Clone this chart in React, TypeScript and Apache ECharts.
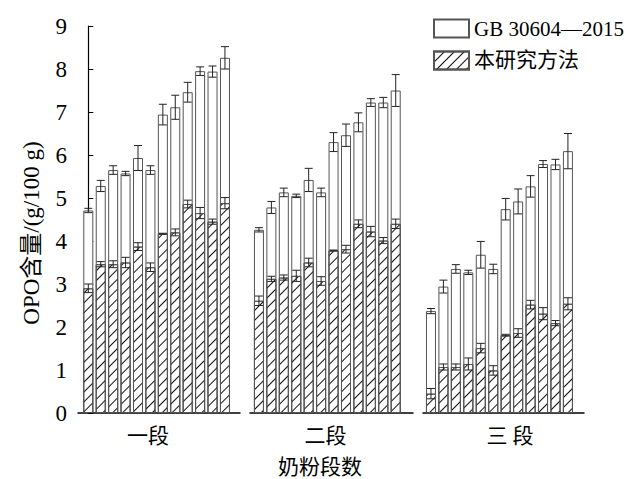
import React, { useEffect, useRef } from "react";
import * as echarts from "echarts";

const groupNames = ["一段", "二段", "三 段"];
const legendNames = ["GB 30604—2015", "本研究方法"];
const yTicks = [0, 1, 2, 3, 4, 5, 6, 7, 8, 9];

const gb1 = [4.71, 5.28, 5.65, 5.57, 5.93, 5.65, 6.94, 7.11, 7.46, 7.95, 7.94, 8.26];
const gbErr1 = [0.05, 0.13, 0.1, 0.05, 0.29, 0.1, 0.24, 0.28, 0.23, 0.1, 0.13, 0.26];
const our1 = [2.9, 3.46, 3.46, 3.5, 3.87, 3.39, 4.17, 4.2, 4.86, 4.65, 4.45, 4.88];
const ourErr1 = [0.1, 0.06, 0.08, 0.12, 0.09, 0.1, 0.01, 0.08, 0.09, 0.13, 0.06, 0.13];

const gb2 = [4.26, 4.78, 5.13, 5.05, 5.42, 5.13, 6.3, 6.46, 6.76, 7.22, 7.22, 7.5];
const gbErr2 = [0.05, 0.14, 0.1, 0.04, 0.27, 0.1, 0.22, 0.26, 0.22, 0.09, 0.12, 0.37];
const our2 = [2.61, 3.12, 3.15, 3.19, 3.5, 3.07, 3.78, 3.81, 4.4, 4.22, 4.01, 4.4];
const ourErr2 = [0.11, 0.06, 0.06, 0.13, 0.1, 0.1, 0.01, 0.09, 0.09, 0.12, 0.07, 0.11];

const gb3 = [2.37, 2.94, 3.35, 3.27, 3.68, 3.35, 4.74, 4.92, 5.27, 5.79, 5.78, 6.09];
const gbErr3 = [0.06, 0.15, 0.1, 0.05, 0.31, 0.11, 0.25, 0.29, 0.25, 0.08, 0.12, 0.41];
const our3 = [0.45, 1.07, 1.07, 1.14, 1.51, 0.99, 1.81, 1.86, 2.52, 2.31, 2.09, 2.54];
const ourErr3 = [0.12, 0.07, 0.07, 0.14, 0.11, 0.11, 0.02, 0.1, 0.1, 0.14, 0.06, 0.14];

const gbData = [gb1, gb2, gb3];
const gbErrs = [gbErr1, gbErr2, gbErr3];
const ourData = [our1, our2, our3];
const ourErrs = [ourErr1, ourErr2, ourErr3];

const FONT = "'Liberation Serif', 'Times New Roman', 'Noto Sans CJK SC', serif";
const CJK = "'Liberation Serif', 'Noto Sans CJK SC', serif";

const hatch = {
  symbol: "rect",
  symbolSize: 1,
  dashArrayX: [1, 0],
  dashArrayY: [1, 6],
  rotation: -Math.PI / 4,
  color: "#111",
  backgroundColor: "#fff",
};

function errorRender(params: any, api: any) {
  const x = api.value(0);
  const y = api.value(1);
  const e = api.value(2);
  const top = api.coord([x, y + e]);
  const bot = api.coord([x, y - e]);
  const hw = 4;
  const style = { stroke: "#222", lineWidth: 1 };
  return {
    type: "group",
    children: [
      { type: "line", shape: { x1: top[0], y1: top[1], x2: bot[0], y2: bot[1] }, style },
      { type: "line", shape: { x1: top[0] - hw, y1: top[1], x2: top[0] + hw, y2: top[1] }, style },
      { type: "line", shape: { x1: bot[0] - hw, y1: bot[1], x2: bot[0] + hw, y2: bot[1] }, style },
    ],
  };
}

export default function App() {
  const ref = useRef<HTMLDivElement>(null);
  useEffect(() => {
    document.body.style.margin = "0";
    const chart = echarts.init(ref.current!, null, { renderer: "svg" });
    const grids = [
      { left: 78, top: 26, width: 162, height: 387 },
      { left: 250, top: 26, width: 163, height: 387 },
      { left: 423, top: 26, width: 161, height: 387 },
    ];
    const xRanges = [
      [-0.83, 12.21],
      [-0.72, 12.39],
      [-0.64, 12.29],
    ];
    const namePads = [
      [0, 22, 0, 0],
      [0, 12, 0, 0],
      [0, 0, 0, 13],
    ];
    const xAxes = grids.map((_, g) => ({
      type: "value",
      gridIndex: g,
      min: xRanges[g][0],
      max: xRanges[g][1],
      name: groupNames[g],
      nameLocation: "middle",
      nameGap: 12,
      nameTextStyle: { fontFamily: CJK, fontSize: 21, color: "#000", padding: namePads[g] },
      axisLine: { show: true, onZero: false, lineStyle: { color: "#000", width: 1.5 } },
      axisTick: { show: false },
      axisLabel: { show: false },
      splitLine: { show: false },
    }));
    const yAxes = grids.map((_, g) => ({
      type: "value",
      gridIndex: g,
      min: yTicks[0],
      max: yTicks[yTicks.length - 1],
      interval: 1,
      axisLine: { show: g === 0, lineStyle: { color: "#000", width: 1.2 } },
      axisTick: { show: g === 0, inside: true, length: 5, lineStyle: { color: "#000" } },
      axisLabel: { show: g === 0, fontFamily: FONT, fontSize: 23, color: "#000", margin: 11 },
      splitLine: { show: false },
    }));
    const series: any[] = [];
    for (let g = 0; g < 3; g++) {
      series.push({
        type: "bar",
        name: legendNames[0],
        xAxisIndex: g,
        yAxisIndex: g,
        barWidth: 10,
        barGap: "-100%",
        itemStyle: { color: "#fff", borderColor: "#555", borderWidth: 1 },
        data: gbData[g].map((v, i) => [i, v]),
      });
      series.push({
        type: "bar",
        name: legendNames[1],
        xAxisIndex: g,
        yAxisIndex: g,
        barWidth: 10,
        barGap: "-100%",
        itemStyle: { color: "#fff", borderColor: "#555", borderWidth: 1, decal: hatch },
        data: ourData[g].map((v, i) => [i, v]),
      });
      series.push({
        type: "custom",
        xAxisIndex: g,
        yAxisIndex: g,
        renderItem: errorRender,
        encode: { x: 0, y: 1 },
        z: 5,
        data: gbData[g].map((v, i) => [i, v, gbErrs[g][i]]),
      });
      series.push({
        type: "custom",
        xAxisIndex: g,
        yAxisIndex: g,
        renderItem: errorRender,
        encode: { x: 0, y: 1 },
        z: 5,
        data: ourData[g].map((v, i) => [i, v, ourErrs[g][i]]),
      });
    }
    chart.setOption({
      animation: false,
      backgroundColor: "#fff",
      grid: grids,
      xAxis: xAxes,
      yAxis: yAxes,
      legend: {
        orient: "vertical",
        left: 428,
        top: 13,
        itemWidth: 35,
        itemHeight: 18,
        itemGap: 11,
        icon: "rect",
        textStyle: { fontFamily: CJK, fontSize: 21, color: "#000" },
        data: legendNames,
      },
      graphic: [
        {
          type: "text",
          x: 31,
          y: 233,
          rotation: Math.PI / 2,
          style: {
            text: "OPO含量/(g/100 g)",
            font: `23px ${FONT}`,
            fill: "#000",
            align: "center",
            verticalAlign: "middle",
          },
        },
        {
          type: "text",
          x: 320,
          y: 467,
          style: {
            text: "奶粉段数",
            font: `21px ${CJK}`,
            fill: "#000",
            align: "center",
            verticalAlign: "middle",
          },
        },
      ],
      series,
    });
    return () => chart.dispose();
  }, []);
  return <div ref={ref} style={{ width: 627, height: 479 }} />;
}
